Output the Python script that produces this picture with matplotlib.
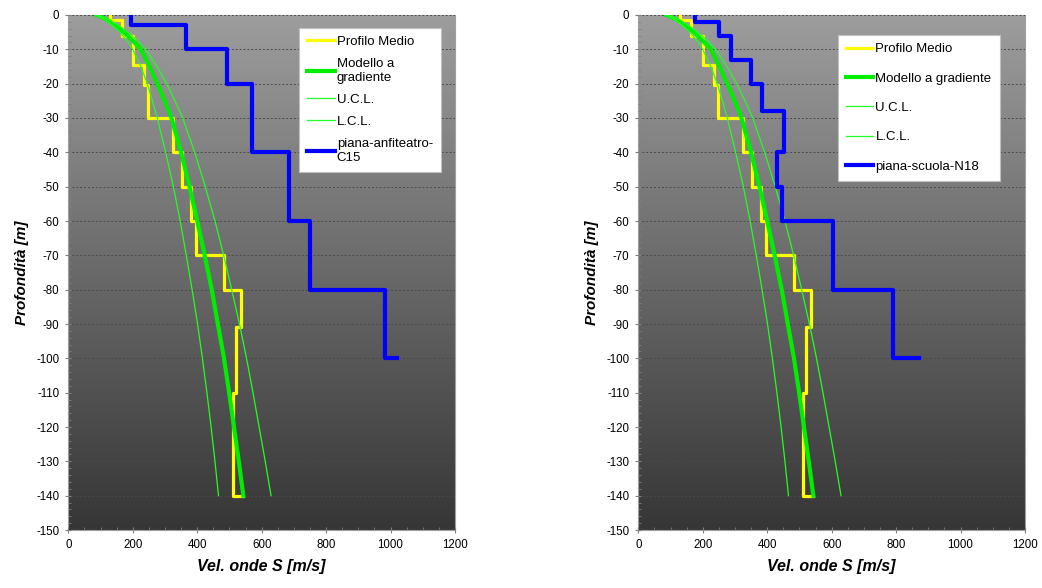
import numpy as np
import matplotlib
matplotlib.use('Agg')
import matplotlib.pyplot as plt
from matplotlib.colors import LinearSegmentedColormap
from matplotlib.ticker import MultipleLocator

plt.rcParams['font.family'] = ['Liberation Sans', 'DejaVu Sans']
plt.rcParams['axes.unicode_minus'] = False

# Profilo Medio (step profile): layer boundaries [m] and Vs [m/s]
prof_bounds = [0, 1.5, 6, 14.5, 20.5, 30, 40, 50, 60, 70, 80, 91, 110, 140]
prof_vs = [129, 165, 200, 236, 248, 326, 353, 381, 397, 482, 537, 521, 512]
prof_end = 541

# gradient model and confidence limits
grad_depth = [0, 1, 2, 3, 5, 7.5, 10, 15, 20, 25, 30, 40, 50, 60, 70, 80, 90, 100, 110, 120, 130, 140]
grad_vs = [88, 112, 130, 145, 172, 200, 225, 252, 276, 299, 320, 350, 376, 400, 423, 445, 464, 483, 499, 514, 529, 543]
ucl_vs = [92, 118, 138, 155, 185, 215, 240, 275, 305, 331, 355, 392, 425, 455, 482, 507, 531, 553, 573, 592, 611, 629]
lcl_vs = [85, 106, 122, 136, 160, 182, 200, 225, 245, 261, 276, 302, 326, 347, 366, 384, 401, 416, 430, 443, 455, 466]

# site profiles
c15_bounds = [0, 3, 10, 20, 40, 60, 80, 100]
c15_vs = [194, 365, 491, 571, 686, 750, 983]
c15_end = 1019
c15_label = 'piana-anfiteatro-\nC15'

n18_bounds = [0, 2, 6, 13, 20, 28, 40, 50, 60, 80, 100]
n18_vs = [176, 251, 287, 349, 385, 453, 429, 445, 603, 791]
n18_end = 872
n18_label = 'piana-scuola-N18'


def step_path(bounds, vs, v_end):
    x, y = [], []
    for i, v in enumerate(vs):
        x += [v, v]
        y += [-bounds[i], -bounds[i + 1]]
    x.append(v_end)
    y.append(-bounds[-1])
    return x, y


def draw_panel(ax, site_bounds, site_vs, site_end, site_label, grad_label, leg_anchor, spacing):
    cmap = LinearSegmentedColormap.from_list('bg', ['#9d9d9d', '#363636'])
    ax.imshow(np.linspace(0, 1, 256).reshape(-1, 1), extent=[0, 1200, -150, 0],
              aspect='auto', cmap=cmap, zorder=0, interpolation='bilinear')

    px, py = step_path(prof_bounds, prof_vs, prof_end)
    ax.plot(px, py, color='#ffff00', lw=2.3, label='Profilo Medio', zorder=3)
    gd = [-d for d in grad_depth]
    ax.plot(grad_vs, gd, color='#00ee00', lw=3.0, label=grad_label, zorder=4)
    ax.plot(ucl_vs, gd, color='#22ff22', lw=0.9, label='U.C.L.', zorder=4)
    ax.plot(lcl_vs, gd, color='#22ff22', lw=0.9, label='L.C.L.', zorder=4)
    sx, sy = step_path(site_bounds, site_vs, site_end)
    ax.plot(sx, sy, color='#0000ff', lw=3.0, label=site_label, zorder=5)

    ax.set_xlim(0, 1200)
    ax.set_ylim(-150, 0)
    ax.xaxis.set_major_locator(MultipleLocator(200))
    ax.xaxis.set_minor_locator(MultipleLocator(50))
    ax.yaxis.set_major_locator(MultipleLocator(10))
    ax.yaxis.set_minor_locator(MultipleLocator(2))
    ax.tick_params(which='major', direction='inout', length=5, width=0.8,
                   color='#808080', labelsize=8.3, pad=4)
    ax.tick_params(which='minor', direction='in', length=2.5, width=0.6, color='#808080')
    ax.grid(axis='y', which='major', color='#4a4a4a', lw=0.7, ls=(0, (2, 2)), zorder=1)
    ax.set_axisbelow(False)
    for sp in ax.spines.values():
        sp.set_color('#a0a0a0')
        sp.set_linewidth(0.8)

    ax.set_xlabel('Vel. onde S [m/s]', fontsize=11.5, fontweight='bold', style='italic', labelpad=6)
    ax.set_ylabel('Profondità [m]', fontsize=11, fontweight='bold', style='italic', labelpad=5)

    leg = ax.legend(loc='upper left', bbox_to_anchor=leg_anchor, fontsize=9.5,
                    frameon=True, fancybox=False, framealpha=1, edgecolor='#c0c0c0',
                    handlelength=2.1, handletextpad=0.15, labelspacing=spacing,
                    borderpad=0.6, borderaxespad=0)
    leg.get_frame().set_linewidth(0.8)
    leg.set_zorder(10)


if __name__ == '__main__':
    fig = plt.figure(figsize=(10.42, 5.88), dpi=100)
    ax1 = fig.add_axes([0.0656, 0.0986, 0.3711, 0.8759])
    ax2 = fig.add_axes([0.6126, 0.0986, 0.3711, 0.8759])

    draw_panel(ax1, c15_bounds, c15_vs, c15_end, c15_label, 'Modello a\ngradiente', (0.597, 0.975), 0.75)
    draw_panel(ax2, n18_bounds, n18_vs, n18_end, n18_label, 'Modello a gradiente', (0.516, 0.961), 1.3)

    plt.savefig('out.png', dpi=100)
    plt.close(fig)
